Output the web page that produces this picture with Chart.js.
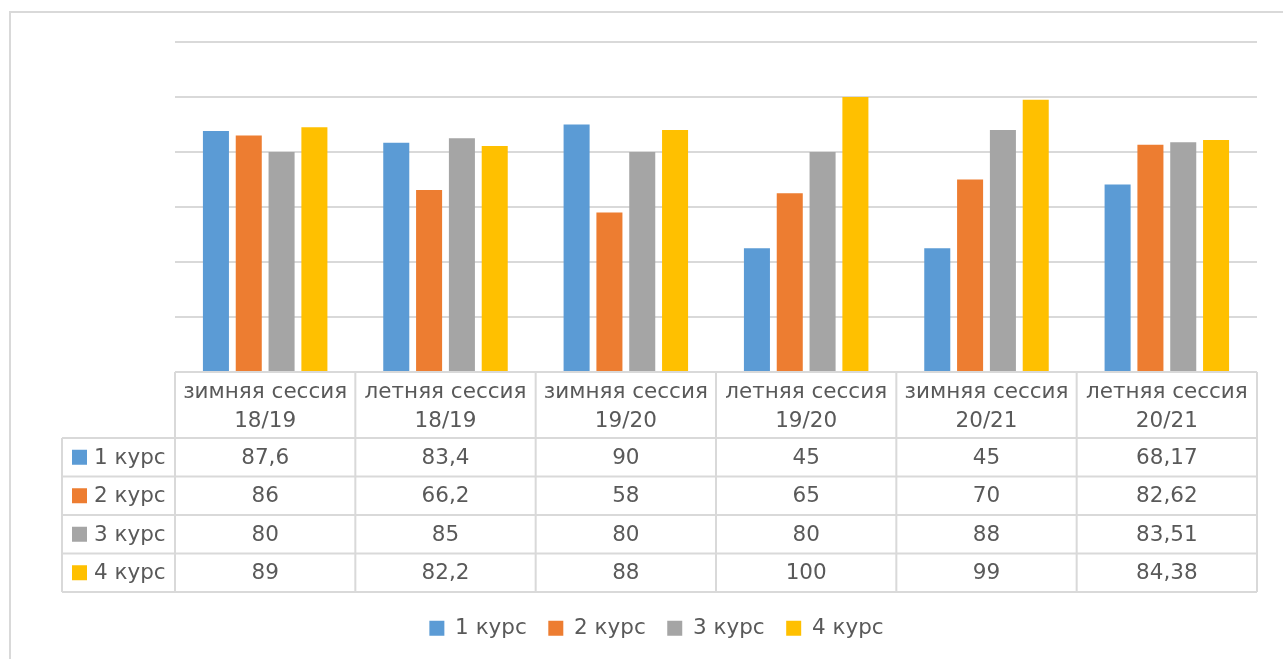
<!DOCTYPE html>
<html><head><meta charset="utf-8">
<script src="https://cdn.jsdelivr.net/npm/chart.js@4/dist/chart.umd.min.js"></script>
<style>html,body{margin:0;padding:0;background:#fff;overflow:hidden}#wrap{width:1283px;height:659px;position:relative}</style>
</head><body><div id="wrap"><canvas id="c" width="1283" height="659"></canvas></div>
<script>
const categories = [
  ['зимняя сессия', '18/19'],
  ['летняя сессия', '18/19'],
  ['зимняя сессия', '19/20'],
  ['летняя сессия', '19/20'],
  ['зимняя сессия', '20/21'],
  ['летняя сессия', '20/21']
];
const seriesNames = ['1 курс', '2 курс', '3 курс', '4 курс'];
const kurs1 = [87.6, 83.4, 90, 45, 45, 68.17];
const kurs2 = [86, 66.2, 58, 65, 70, 82.62];
const kurs3 = [80, 85, 80, 80, 88, 83.51];
const kurs4 = [89, 82.2, 88, 100, 99, 84.38];
const yTicks = [0, 20, 40, 60, 80, 100, 120];
const colors = ['#5B9BD5', '#ED7D31', '#A5A5A5', '#FFC000'];

const seriesValues = [kurs1, kurs2, kurs3, kurs4];
const TEXT = '#595959';
const LINE = '#D9D9D9';
const FAM = '"DejaVu Sans", sans-serif';
const FSIZE = 21.5;

const fmt = v => String(v).replace('.', ',');

const tablePlugin = {
  id: 'dataTable',
  beforeDraw(chart) {
    const ctx = chart.ctx;
    ctx.save();
    ctx.fillStyle = '#fff';
    ctx.fillRect(0, 0, chart.width, chart.height);
    ctx.strokeStyle = LINE;
    ctx.lineWidth = 2;
    ctx.strokeRect(10, 12, chart.width + 20, chart.height + 20);
    ctx.restore();
  },
  afterDraw(chart) {
    const { ctx, chartArea } = chart;
    const x = chart.scales.x;
    const n = categories.length;
    const half = (x.getPixelForValue(1) - x.getPixelForValue(0)) / 2;
    const top = chartArea.bottom;
    const headH = 66, rowH = 38.5;
    const labelLeft = 62;
    const bottom = top + headH + rowH * seriesNames.length;
    ctx.save();
    ctx.strokeStyle = LINE;
    ctx.lineWidth = 2;
    ctx.beginPath();
    // header top
    ctx.moveTo(chartArea.left, top); ctx.lineTo(chartArea.right, top);
    for (let r = 0; r <= seriesNames.length; r++) {
      const y = top + headH + r * rowH;
      ctx.moveTo(labelLeft, y); ctx.lineTo(chartArea.right, y);
    }
    for (let i = 0; i <= n; i++) {
      const bx = i < n ? x.getPixelForValue(i) - half : x.getPixelForValue(n - 1) + half;
      ctx.moveTo(bx, top); ctx.lineTo(bx, bottom);
    }
    ctx.moveTo(labelLeft, top + headH); ctx.lineTo(labelLeft, bottom);
    ctx.stroke();

    ctx.fillStyle = TEXT;
    ctx.font = FSIZE + 'px ' + FAM;
    ctx.textAlign = 'center';
    ctx.textBaseline = 'middle';
    categories.forEach((lines, i) => {
      const cx = x.getPixelForValue(i);
      ctx.fillText(lines[0], cx, top + 20);
      ctx.fillText(lines[1], cx, top + 49);
      seriesValues.forEach((arr, s) => {
        ctx.fillText(fmt(arr[i]), cx, top + headH + rowH * s + rowH / 2 + 1);
      });
    });
    ctx.textAlign = 'left';
    seriesNames.forEach((name, s) => {
      const cy = top + headH + rowH * s + rowH / 2;
      ctx.fillStyle = colors[s];
      ctx.fillRect(72, cy - 7.5, 15, 15);
      ctx.fillStyle = TEXT;
      ctx.fillText(name, 94, cy + 1);
    });
    ctx.restore();
  }
};

new Chart(document.getElementById('c'), {
  type: 'bar',
  data: {
    labels: categories,
    datasets: seriesNames.map((name, s) => ({
      label: name,
      data: seriesValues[s],
      backgroundColor: colors[s],
      borderWidth: 0,
      categoryPercentage: 0.728,
      barPercentage: 0.793
    }))
  },
  options: {
    responsive: false,
    animation: false,
    devicePixelRatio: 1,
    layout: { padding: { left: 30, right: 0, top: 42, bottom: 10 } },
    plugins: {
      tooltip: { enabled: false },
      legend: {
        position: 'bottom',
        labels: {
          boxWidth: 15,
          boxHeight: 15,
          padding: 21.5,
          color: TEXT,
          font: { family: FAM, size: FSIZE }
        }
      }
    },
    scales: {
      x: {
        display: true,
        grid: { display: false },
        border: { display: false },
        ticks: { display: false },
        afterFit(s) { s.height = 224; }
      },
      y: {
        min: yTicks[0],
        max: yTicks[yTicks.length - 1],
        afterBuildTicks(s) { s.ticks = yTicks.map(v => ({ value: v })); },
        grid: { color: LINE, lineWidth: 2, drawTicks: false },
        border: { display: false },
        ticks: { display: false },
        afterFit(s) { s.width = 145; }
      },
      yR: {
        position: 'right',
        display: true,
        grid: { display: false },
        border: { display: false },
        ticks: { display: false },
        afterFit(s) { s.width = 26; }
      }
    }
  },
  plugins: [tablePlugin]
});
</script>
</body></html>
